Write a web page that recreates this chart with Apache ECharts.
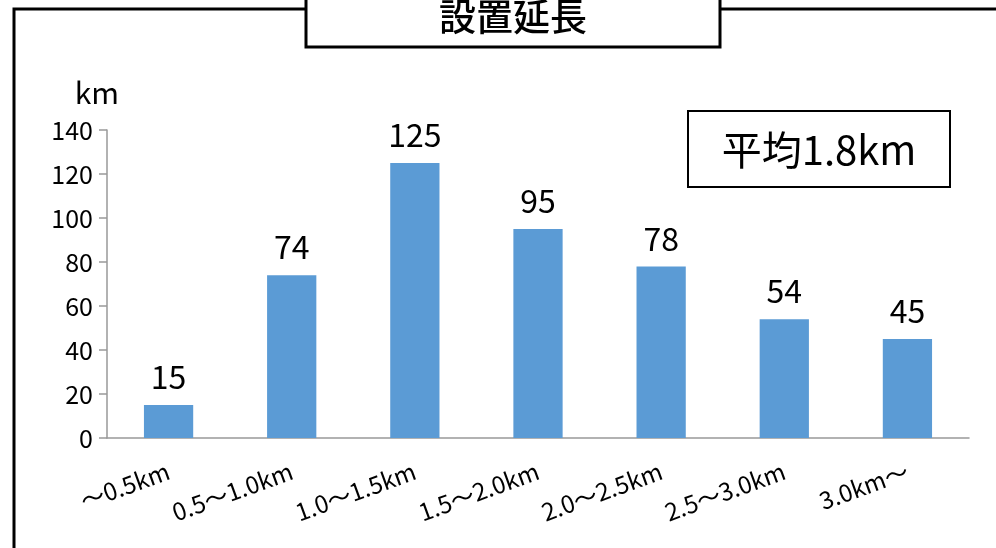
<!DOCTYPE html>
<html>
<head>
<meta charset="utf-8">
<script src="https://cdn.jsdelivr.net/npm/echarts@6/dist/echarts.min.js"></script>
<style>
html, body { margin: 0; padding: 0; background: #fff; }
#chart { width: 996px; height: 548px; }
</style>
</head>
<body>
<div id="chart"></div>
<script>
// 区間ごとの設置延長
var categories = ['～0.5km', '0.5～1.0km', '1.0～1.5km', '1.5～2.0km', '2.0～2.5km', '2.5～3.0km', '3.0km～'];
var counts = [15, 74, 125, 95, 78, 54, 45];
var titleText = '設置延長';
var averageText = '平均1.8km';

var myChart = echarts.init(document.getElementById('chart'));
var option = {
	animation: false,
	textStyle: { fontFamily: '"Noto Sans CJK JP"' },
	grid: { left: 107, right: 27, top: 130, bottom: 110 },
	graphic: [
		{ type: 'rect', z: 0, shape: { x: 14, y: 9, width: 1000, height: 560 },
			style: { fill: 'none', stroke: '#000', lineWidth: 3 } },
		{ type: 'rect', z: 1, shape: { x: 306, y: -5, width: 414, height: 52 },
			style: { fill: '#fff', stroke: '#000', lineWidth: 3 } },
		{ type: 'text', z: 2, x: 513, y: 17,
			style: { text: titleText, fill: '#000', font: '500 37px "Noto Sans CJK JP"', align: 'center', verticalAlign: 'middle' } },
		{ type: 'rect', z: 1, shape: { x: 688, y: 111, width: 262, height: 76 },
			style: { fill: '#fff', stroke: '#000', lineWidth: 2 } },
		{ type: 'text', z: 2, x: 819, y: 150,
			style: { text: averageText, fill: '#000', font: '40px "Noto Sans CJK JP"', align: 'center', verticalAlign: 'middle' } }
	],
	xAxis: {
		type: 'category',
		data: categories,
		axisLine: { lineStyle: { color: '#999', width: 1.5 } },
		axisTick: { length: 8, lineStyle: { color: '#999', width: 1.5 } },
		axisLabel: { rotate: 20, color: '#000', fontSize: 24, margin: 32 }
	},
	yAxis: {
		type: 'value',
		min: 0, max: 140, interval: 20,
		name: 'km',
		nameGap: 22,
		nameTextStyle: { color: '#000', fontSize: 30, align: 'right', padding: [0, -12, 0, 0] },
		axisLine: { show: true, lineStyle: { color: '#999', width: 1.5 } },
		axisTick: { show: true, length: 8, lineStyle: { color: '#999', width: 1.5 } },
		splitLine: { show: false },
		axisLabel: { color: '#000', fontSize: 25, margin: 14 }
	},
	series: [{
		type: 'bar',
		data: counts,
		barWidth: '40%',
		itemStyle: { color: '#5b9bd5' },
		label: { show: true, position: 'top', distance: 12, color: '#000', fontSize: 32 }
	}]
};
myChart.setOption(option);
</script>
</body>
</html>
